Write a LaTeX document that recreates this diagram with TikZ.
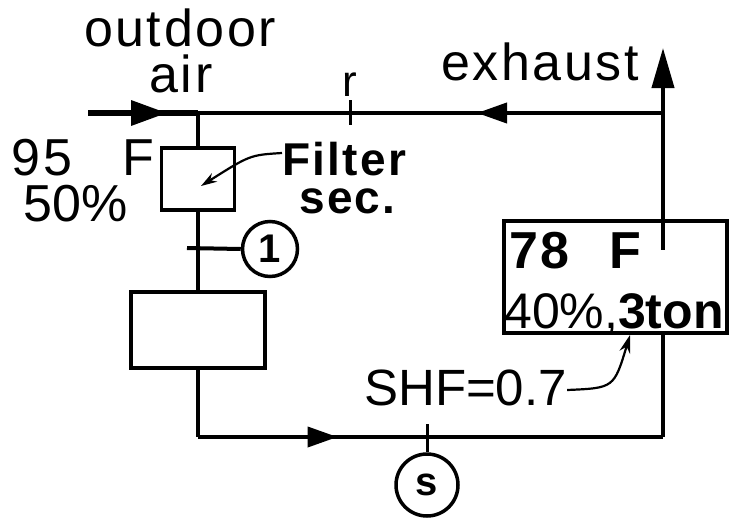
\documentclass[tikz,border=0pt]{standalone}
\usepackage{fontspec}
\setmainfont{Liberation Sans}
\newfontfamily\widefont{Liberation Sans}[LetterSpace=5]
\newfontfamily\midfont{Liberation Sans}[LetterSpace=3]
\usetikzlibrary{arrows.meta,decorations.markings}
\tikzset{
  pipe/.style={line width=4pt},
  unitbox/.style={draw, line width=3.5pt, rectangle, inner sep=0pt},
  tag/.style={draw, line width=3.5pt, circle, inner sep=0pt, minimum size=#1},
  lbl/.style={inner sep=0pt, font=\fontsize{52}{56}\selectfont\widefont},
  lblb/.style={inner sep=0pt, font=\fontsize{46}{50}\selectfont\widefont\bfseries},
  flowtip/.style={decoration={markings, mark=at position #1 with {\arrow{Triangle[length=30pt,width=20pt]}}}, postaction={decorate}},
}
\begin{document}
\begin{tikzpicture}[x=1pt,y=-1pt]
\useasboundingbox (0,0) rectangle (731,520);
% units
\node[unitbox, minimum width=73pt, minimum height=62pt] (filt) at (198,179) {};
\node[unitbox, minimum width=134pt, minimum height=76pt] (coil) at (198,330) {};
\node[unitbox, minimum width=223pt, minimum height=112pt] (room) at (615.5,277) {};
\node[tag=55pt] (c1) at (270,249) {\fontsize{40}{44}\selectfont\bfseries 1};
\node[tag=62pt] (cs) at (427,485) {\fontsize{40}{44}\selectfont\bfseries s};
% coordinates
\coordinate (oa) at (88,113);
\coordinate (mix) at (198,113);
\coordinate (ex) at (663,113);
\coordinate (extop) at (663,48);
\coordinate (rin) at (663,250);
\coordinate (bl) at (198,437);
\coordinate (br) at (663,437);
\coordinate (t1) at (187,248);
\coordinate (rt) at (350,100);
\coordinate (rb) at (350,125);
\coordinate (st) at (427,424);
% pipes
\draw[line width=6pt, decoration={markings, mark=at position 0.72 with {\arrow{Triangle[length=36pt,width=24pt]}}}, postaction={decorate}] (oa) -- (mix);
\draw[pipe, flowtip=0.40] (ex) -- (mix);
\draw[pipe, -{Triangle[length=40pt,width=22pt]}] (ex) -- (extop);
\draw[pipe] (ex) -- (rin);
\draw[pipe] (mix) -- (filt.north);
\draw[pipe] (filt.south) -- (coil.north);
\draw[pipe] (coil.south) -- (bl);
\draw[pipe, flowtip=0.30] (bl) -- (br);
\draw[pipe] (room.south -| br) -- (br);
\draw[pipe] (t1) -- (c1.west);
\draw[line width=3pt] (rt) -- (rb);
\draw[line width=3pt] (st) -- (cs.north);
% labels
\node[lbl, anchor=base] (outdoor) at (180,46) {outdoor};
\node[lbl, anchor=base] (air) at (181,92) {air};
\node[lbl, anchor=base, font=\fontsize{44}{48}\selectfont] (r) at (350,96) {r};
\node[lbl, anchor=base west, font=\fontsize{52}{56}\selectfont] (t95) at (11,175) {9\hspace{3pt}5\hspace{50pt}F};
\node[lbl, anchor=base west, font=\fontsize{52}{56}\selectfont] (p50) at (23,221) {50\%};
\node[lblb, anchor=base west] (filter) at (282,175) {Filter};
\node[lblb, anchor=base west] (sec) at (299,213) {sec.};
\node[lbl, anchor=base] (exhaust) at (540,80) {exhaust};
\node[lbl, anchor=base west, font=\fontsize{52}{56}\selectfont\widefont\bfseries] (t78) at (509,268) {78\hspace{40pt}F};
\node[lbl, anchor=base west, font=\fontsize{50}{54}\selectfont] (p40) at (504,328) {40\%,\textbf{3ton}};
\node[lbl, anchor=base west, font=\fontsize{51}{55}\selectfont] (shf) at (364,405) {SHF=0.7};
% leader arrows
\draw[line width=2.2pt, -{Stealth[length=16pt,width=10pt]}] (filter.west |- 0,153) .. controls (250,155) .. (201,186);
\draw[line width=2.2pt, -{Stealth[length=18pt,width=11pt]}] (shf.east |- 0,390) .. controls (614,388) .. (630,335);
\end{tikzpicture}
\end{document}
